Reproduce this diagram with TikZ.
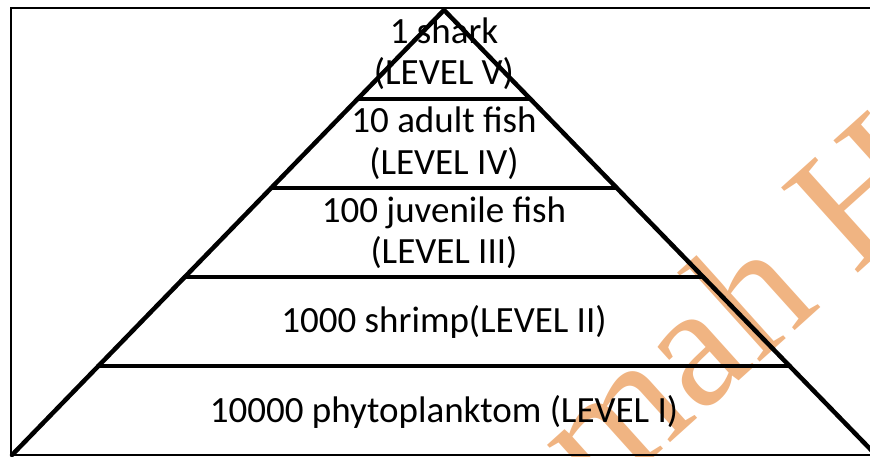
\documentclass[tikz,border=0pt]{standalone}
\usepackage{fontspec}
\setmainfont{Carlito}
\newfontfamily\markfont{Liberation Serif}
\usetikzlibrary{calc}
\definecolor{markorange}{HTML}{F0B482}
\tikzset{
  tier/.style={line width=4.5pt, line cap=round, line join=round},
  frameline/.style={line width=1.8pt},
  label/.style={anchor=base, inner sep=0pt, font=\fontsize{37}{42}\selectfont}
}
\begin{document}
\begin{tikzpicture}[x=1pt, y=-1pt]
  \useasboundingbox (0,0) rectangle (870,456);
  \clip (0,0) rectangle (870,456);

  % watermark behind the drawing
  \node[anchor=base west, inner sep=0pt, rotate=42, text=markorange,
        font=\markfont\fontsize{175}{175}\selectfont] (mark) at (598,508)
        {mah H};

  % outer frame
  \draw[frameline] (880,8) -- (11,8) -- (11,455) -- (880,455);

  % pyramid outline
  \coordinate (apex) at (444,10);
  \coordinate (bl) at (12,455);
  \coordinate (br) at (876,455);
  \draw[tier] (bl) -- (apex) -- (br);

  % tier separators
  \foreach \t/\n in {0.2/a, 0.4/b, 0.6/c, 0.8/d} {
    \coordinate (l\n) at ($(apex)!\t!(bl)$);
    \coordinate (r\n) at ($(apex)!\t!(br)$);
    \draw[tier] (l\n) -- (r\n);
  }

  % tier labels
  \node[label] (v1) at (444,43) {1 shark};
  \node[label] (v2) at (444,84) {(LEVEL V)};
  \node[label] (iv1) at (444,132) {10 adult fish};
  \node[label] (iv2) at (444,174) {(LEVEL IV)};
  \node[label] (iii1) at (444,222) {100 juvenile fish};
  \node[label] (iii2) at (444,263) {(LEVEL III)};
  \node[label] (ii) at (444,332) {1000 shrimp(LEVEL II)};
  \node[label] (i) at (444,422) {10000 phytoplanktom (LEVEL I)};
\end{tikzpicture}
\end{document}
